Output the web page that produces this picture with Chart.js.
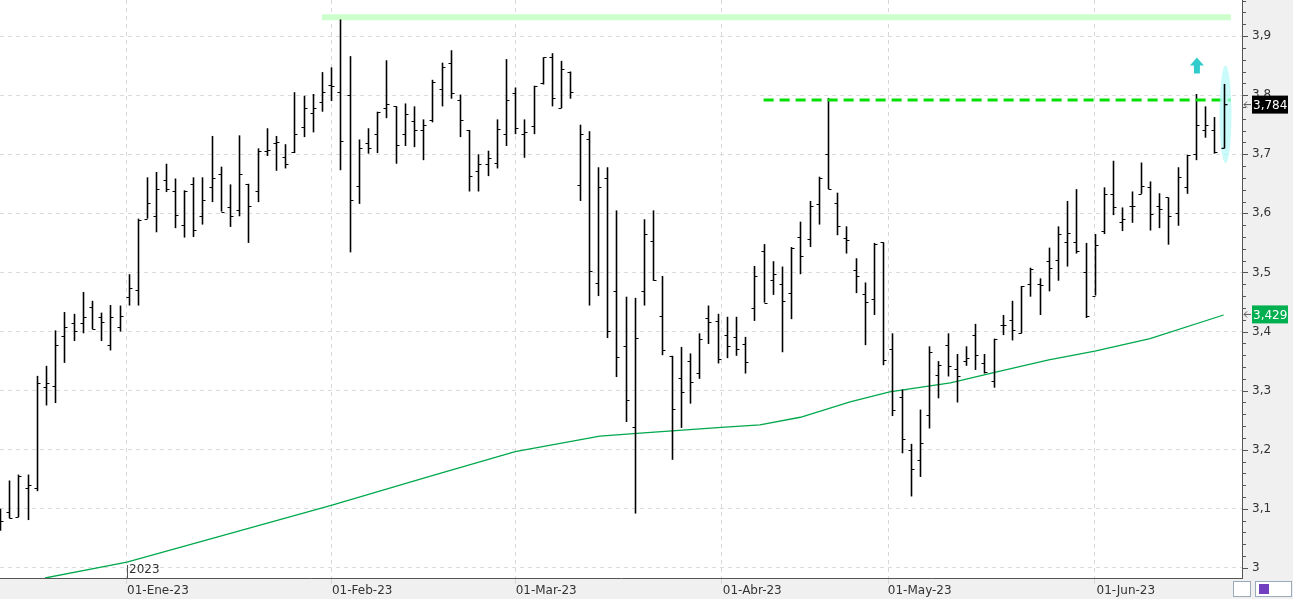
<!DOCTYPE html>
<html><head><meta charset="utf-8">
<script src="https://cdn.jsdelivr.net/npm/chart.js@4.4.0/dist/chart.umd.min.js"></script>
<style>html,body{margin:0;padding:0;background:#f0f0f0;overflow:hidden}</style>
</head><body>
<canvas id="c" width="1293" height="599"></canvas>
<script>
const opens  = [3.08,3.095,3.087,3.136,3.136,3.306,3.308,3.392,3.415,3.415,3.441,3.424,3.378,3.408,3.459,3.47,3.591,3.595,3.656,3.637,3.581,3.649,3.595,3.644,
3.666,3.61,3.605,3.65,3.637,3.706,3.719,3.695,3.703,3.746,3.769,3.788,3.817,3.805,3.8,3.647,3.719,3.734,3.778,3.781,3.735,3.756,3.741,
3.758,3.811,3.855,3.791,3.741,3.672,3.683,3.686,3.735,3.803,3.735,3.747,3.821,3.865,3.778,3.84,3.648,3.726,3.482,3.659,3.468,3.376,3.239,
3.468,3.553,3.426,3.359,3.321,3.35,3.33,3.423,3.418,3.395,3.391,3.379,3.44,3.537,3.488,3.481,3.465,3.56,3.556,3.615,3.7,3.618,3.559,
3.504,3.463,3.455,3.551,3.37,3.289,3.199,3.183,3.258,3.326,3.378,3.337,3.35,3.395,3.347,3.316,3.411,3.419,3.397,3.481,3.481,3.519,3.521,
3.552,3.552,3.5,3.461,3.57,3.632,3.585,3.612,3.633,3.644,3.612,3.627,3.6,3.644,3.7,3.741,3.741,3.71];
const highs  = [3.1,3.148,3.158,3.158,3.325,3.342,3.402,3.433,3.43,3.467,3.452,3.432,3.445,3.444,3.497,3.591,3.661,3.67,3.684,3.659,3.639,3.661,3.661,3.731,
3.679,3.649,3.732,3.65,3.71,3.744,3.731,3.717,3.805,3.799,3.802,3.839,3.847,3.928,3.866,3.725,3.744,3.772,3.859,3.781,3.786,3.781,3.759,
3.826,3.855,3.876,3.801,3.741,3.7,3.706,3.759,3.861,3.813,3.759,3.816,3.864,3.871,3.858,3.84,3.75,3.739,3.678,3.678,3.605,3.459,3.457,
3.59,3.605,3.494,3.359,3.374,3.363,3.397,3.444,3.43,3.425,3.425,3.391,3.511,3.548,3.519,3.51,3.543,3.586,3.621,3.662,3.795,3.635,3.578,
3.524,3.483,3.55,3.551,3.397,3.302,3.21,3.268,3.375,3.35,3.397,3.362,3.375,3.413,3.362,3.388,3.428,3.452,3.477,3.508,3.49,3.542,3.578,
3.621,3.641,3.55,3.565,3.644,3.689,3.61,3.637,3.686,3.654,3.634,3.627,3.678,3.699,3.802,3.781,3.763,3.819];
const lows   = [3.063,3.084,3.086,3.081,3.13,3.275,3.279,3.347,3.384,3.397,3.404,3.384,3.368,3.4,3.444,3.444,3.591,3.568,3.636,3.575,3.559,3.56,3.581,3.619,
3.603,3.577,3.595,3.55,3.619,3.697,3.672,3.676,3.702,3.729,3.737,3.772,3.79,3.673,3.534,3.616,3.701,3.702,3.761,3.684,3.714,3.712,3.69,
3.754,3.781,3.794,3.729,3.637,3.637,3.663,3.676,3.714,3.734,3.694,3.734,3.818,3.781,3.778,3.794,3.621,3.444,3.46,3.389,3.323,3.247,3.092,
3.444,3.486,3.36,3.183,3.237,3.278,3.32,3.379,3.346,3.355,3.359,3.329,3.418,3.449,3.462,3.365,3.421,3.497,3.543,3.581,3.641,3.563,3.532,
3.465,3.377,3.428,3.343,3.257,3.194,3.121,3.154,3.236,3.287,3.324,3.28,3.342,3.335,3.329,3.305,3.394,3.385,3.397,3.459,3.428,3.468,3.486,
3.51,3.532,3.423,3.461,3.565,3.597,3.57,3.584,3.633,3.571,3.575,3.547,3.579,3.633,3.69,3.728,3.701,3.71];
const closes = [3.08,3.085,3.155,3.14,3.313,3.313,3.378,3.407,3.401,3.425,3.405,3.417,3.425,3.427,3.473,3.589,3.618,3.641,3.641,3.597,3.637,3.571,3.623,3.659,
3.603,3.595,3.666,3.613,3.705,3.708,3.72,3.683,3.735,3.779,3.779,3.806,3.815,3.723,3.622,3.71,3.71,3.771,3.785,3.715,3.768,3.741,3.749,
3.823,3.848,3.803,3.758,3.663,3.684,3.694,3.743,3.792,3.745,3.737,3.815,3.864,3.795,3.845,3.805,3.734,3.502,3.645,3.401,3.357,3.284,3.389,
3.565,3.487,3.368,3.269,3.297,3.315,3.387,3.417,3.354,3.375,3.37,3.348,3.494,3.449,3.497,3.452,3.542,3.527,3.613,3.66,3.642,3.578,3.555,
3.494,3.45,3.548,3.352,3.268,3.218,3.168,3.212,3.366,3.344,3.342,3.325,3.355,3.36,3.331,3.387,3.411,3.403,3.477,3.506,3.479,3.507,3.565,
3.567,3.536,3.427,3.547,3.632,3.61,3.59,3.613,3.647,3.599,3.608,3.595,3.661,3.699,3.75,3.749,3.703,3.784];
const maIndex = [4.9,13.8,36,46.7,56,65.2,69.6,78.4,82.6,87,92.4,96.7,103.3,108.7,114,119,125,133];
const maValue = [2.983,3.01,3.106,3.155,3.197,3.223,3.228,3.238,3.242,3.255,3.281,3.298,3.313,3.333,3.352,3.367,3.388,3.428];
const monthIndex = [13.8,36,56,78.4,96.6,119];
const monthLabels = ['01-Ene-23','01-Feb-23','01-Mar-23','01-Abr-23','01-May-23','01-Jun-23'];
const yTicks = [3.0,3.1,3.2,3.3,3.4,3.5,3.6,3.7,3.8,3.9];
const resistance = {from:35, to:133.8, value:3.932};
const breakout = {from:83, to:133.8, value:3.792};
const lastPrice = 3.784, maLast = 3.429;

const fmt = v => v.toFixed(v===3?0:1).replace('.',',');

const ohlcPlugin = {
  id:'ohlc',
  beforeDraw(ch){
    const {ctx, chartArea:a} = ch;
    ctx.save(); ctx.fillStyle='#fff'; ctx.fillRect(a.left,a.top,a.right-a.left,a.bottom-a.top); ctx.restore();
  },
  afterDatasetsDraw(ch){
    const {ctx, scales:{x,y}, chartArea:a} = ch;
    ctx.save();
    ctx.beginPath(); ctx.rect(a.left,a.top,a.right-a.left,a.bottom-a.top); ctx.clip();
    ctx.strokeStyle='#ccffcc'; ctx.lineWidth=6; ctx.beginPath();
    ctx.moveTo(x.getPixelForValue(resistance.from), y.getPixelForValue(resistance.value));
    ctx.lineTo(x.getPixelForValue(resistance.to), y.getPixelForValue(resistance.value)); ctx.stroke();
    ctx.strokeStyle='#000';
    for(let i=0;i<opens.length-1;i++){
      const px=Math.round(x.getPixelForValue(i))+0.5;
      ctx.lineWidth=1.6; ctx.beginPath();
      ctx.moveTo(px,y.getPixelForValue(highs[i])); ctx.lineTo(px,y.getPixelForValue(lows[i]));
      ctx.stroke();
      ctx.lineWidth=1.2; ctx.beginPath();
      ctx.moveTo(px-3,Math.round(y.getPixelForValue(opens[i]))+0.5); ctx.lineTo(px,Math.round(y.getPixelForValue(opens[i]))+0.5);
      ctx.moveTo(px,Math.round(y.getPixelForValue(closes[i]))+0.5); ctx.lineTo(px+3,Math.round(y.getPixelForValue(closes[i]))+0.5);
      ctx.stroke();
    }
    ctx.strokeStyle='#00e000'; ctx.lineWidth=3; ctx.setLineDash([10,6]); ctx.beginPath();
    ctx.moveTo(x.getPixelForValue(breakout.from), y.getPixelForValue(breakout.value));
    ctx.lineTo(x.getPixelForValue(breakout.to), y.getPixelForValue(breakout.value)); ctx.stroke();
    ctx.setLineDash([]);
    const li=opens.length-1, lx=Math.round(x.getPixelForValue(li))+0.5;
    const ey1=y.getPixelForValue(3.85), ey2=y.getPixelForValue(3.685);
    ctx.fillStyle='rgba(180,250,250,0.7)'; ctx.beginPath();
    ctx.ellipse(lx+1,(ey1+ey2)/2,6,(ey2-ey1)/2,0,0,Math.PI*2); ctx.fill();
    ctx.strokeStyle='#000'; ctx.lineWidth=1.6; ctx.beginPath();
    ctx.moveTo(lx,y.getPixelForValue(highs[li])); ctx.lineTo(lx,y.getPixelForValue(lows[li])); ctx.stroke();
    ctx.lineWidth=1.2; ctx.beginPath();
    ctx.moveTo(lx-3,y.getPixelForValue(opens[li])); ctx.lineTo(lx,y.getPixelForValue(opens[li]));
    ctx.moveTo(lx,y.getPixelForValue(closes[li])); ctx.lineTo(lx+3,y.getPixelForValue(closes[li])); ctx.stroke();
    const ax=x.getPixelForValue(130.1), ay=y.getPixelForValue(3.85);
    ctx.fillStyle='#33cccc'; ctx.beginPath();
    ctx.moveTo(ax,ay-8); ctx.lineTo(ax+7,ay); ctx.lineTo(ax+3,ay); ctx.lineTo(ax+3,ay+8);
    ctx.lineTo(ax-3,ay+8); ctx.lineTo(ax-3,ay); ctx.lineTo(ax-7,ay); ctx.closePath(); ctx.fill();
    ctx.restore();
    ctx.save();
    const gx=Math.round(x.getPixelForValue(monthIndex[0]));
    ctx.strokeStyle='#555'; ctx.lineWidth=1; ctx.beginPath(); ctx.moveTo(gx+0.5,565); ctx.lineTo(gx+0.5,a.bottom); ctx.stroke();
    ctx.fillStyle='#333'; ctx.font='12px "DejaVu Sans"'; ctx.textBaseline='middle'; ctx.fillText('2023',gx+2,570);
    ctx.strokeStyle='#555';
    for(let k=0; k<=48; k++){
      const v=3.0+k*0.02;
      const py=Math.round(y.getPixelForValue(v))+0.5;
      const major=k%5===0;
      ctx.beginPath(); ctx.moveTo(a.right,py); ctx.lineTo(a.right+(major?6:4),py); ctx.stroke();
    }
    const tag=(v,bg,txt)=>{
      const py=y.getPixelForValue(v);
      ctx.fillStyle=bg; ctx.fillRect(a.right+10,py-9,36,18);
      ctx.fillStyle='#fff'; ctx.font='12px "DejaVu Sans"'; ctx.textBaseline='middle';
      ctx.fillText(txt,a.right+11,py+1);
      ctx.strokeStyle='#555'; ctx.beginPath(); ctx.moveTo(a.right+2,py); ctx.lineTo(a.right+9,py);
      ctx.moveTo(a.right+2,py); ctx.lineTo(a.right+5,py-3); ctx.moveTo(a.right+2,py); ctx.lineTo(a.right+5,py+3); ctx.stroke();
    };
    tag(lastPrice,'#000','3,784');
    tag(maLast,'#00b050','3,429');
    ctx.strokeStyle='#9ab'; ctx.fillStyle='#fff';
    ctx.fillRect(1233,581,17,15); ctx.strokeRect(1233.5,581.5,17,15);
    ctx.fillRect(1255,581,36,15); ctx.strokeRect(1255.5,581.5,36,15);
    ctx.fillStyle='#7040c0'; ctx.fillRect(1259,584,10,10);
    ctx.restore();
  }
};

const maData = maIndex.map((v,i)=>({x:v,y:maValue[i]}));

new Chart(document.getElementById('c'),{
  type:'line',
  data:{datasets:[{data:maData,borderColor:'#00a84c',borderWidth:1.3,pointRadius:0,tension:0,fill:false}]},
  options:{
    responsive:false, animation:false, devicePixelRatio:1,
    layout:{padding:0},
    plugins:{legend:{display:false},tooltip:{enabled:false}},
    scales:{
      x:{type:'linear',min:0,max:135,
        afterBuildTicks(s){s.ticks=monthIndex.map(v=>({value:v}));},
        afterFit(s){s.height=21; s.paddingLeft=0; s.paddingRight=0;},
        grid:{color:'#d8d8d8',tickLength:6,drawTicks:true},
        border:{color:'#555',dash:[4,4]},
        ticks:{autoSkip:false,maxRotation:0,padding:0,labelOffset:31,color:'#333',font:{family:'DejaVu Sans',size:12},
          callback(v,i){return monthLabels[i];}}
      },
      y:{position:'right',min:2.983,max:3.961,
        afterBuildTicks(s){s.ticks=yTicks.map(v=>({value:v}));},
        afterFit(s){s.width=51; s.paddingTop=0; s.paddingBottom=0;},
        grid:{color:'#dcdcdc',tickLength:0},
        border:{color:'#555',dash:[4,4]},
        ticks:{padding:10,color:'#333',font:{family:'DejaVu Sans',size:12},callback:v=>fmt(v)}
      }
    }
  },
  plugins:[ohlcPlugin]
});
</script>
</body></html>
